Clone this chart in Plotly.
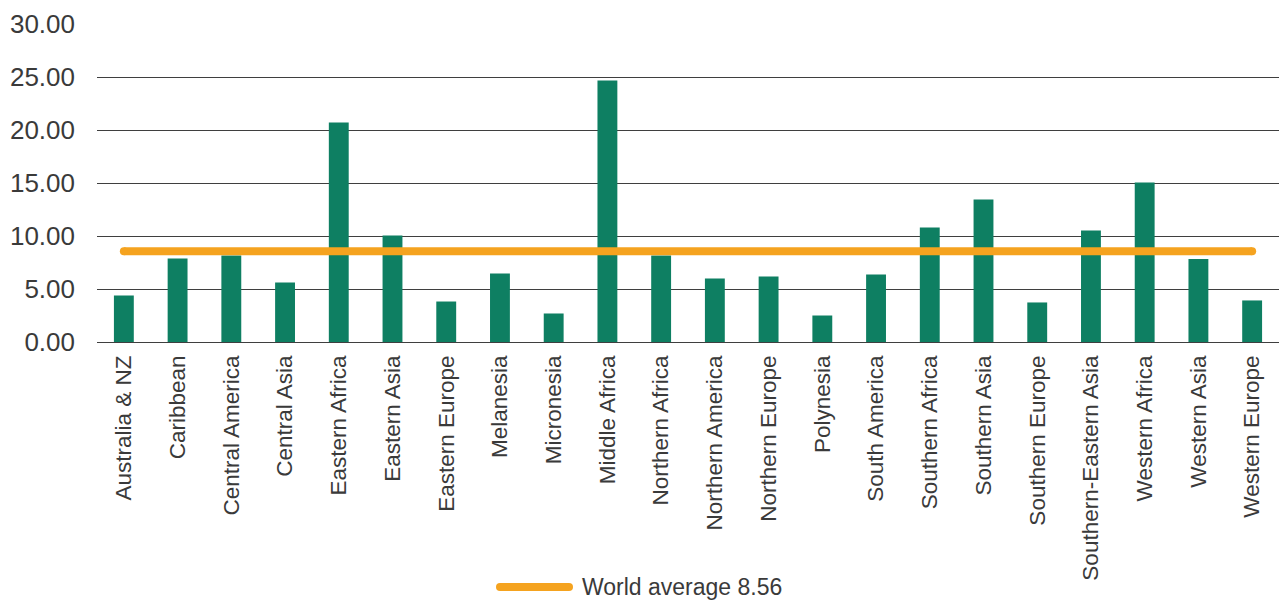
import plotly.graph_objects as go

regions = [
    "Australia & NZ", "Caribbean", "Central America", "Central Asia",
    "Eastern Africa", "Eastern Asia", "Eastern Europe", "Melanesia",
    "Micronesia", "Middle Africa", "Northern Africa", "Northern America",
    "Northern Europe", "Polynesia", "South America", "Southern Africa",
    "Southern Asia", "Southern Europe", "Southern-Eastern Asia",
    "Western Africa", "Western Asia", "Western Europe",
]
rates = [
    4.39, 7.88, 8.16, 5.61,
    20.71, 10.05, 3.82, 6.46,
    2.69, 24.67, 8.16, 5.99,
    6.18, 2.50, 6.37, 10.80,
    13.44, 3.73, 10.52,
    15.05, 7.83, 3.92,
]
world_average = 8.56
y_ticks = [0, 5, 10, 15, 20, 25, 30]
y_tick_text = [f"{v:.2f}" for v in y_ticks]

GREEN = "#0E7F62"
ORANGE = "#F5A31F"
TEXT = "#3a3a3a"
GRID = "#3f3f3f"
FONT = "Liberation Sans, Arial, sans-serif"

PLOT_L, PLOT_W, PLOT_T, PLOT_H = 97, 1182, 24, 318.5

fig = go.Figure()

fig.add_trace(go.Bar(
    x=regions, y=rates,
    marker=dict(color=GREEN, line=dict(width=0)),
    showlegend=False,
    hoverinfo="x+y",
))

# average line with rounded ends
fig.add_trace(go.Scatter(
    x=[regions[0], regions[-1]],
    y=[world_average, world_average],
    mode="lines+markers",
    line=dict(color=ORANGE, width=8),
    marker=dict(color=ORANGE, size=8, line=dict(width=0)),
    name=f"World average {world_average}",
    showlegend=False,
    cliponaxis=False,
))

# legend swatch + label
leg_y = -(588 - (PLOT_T + PLOT_H)) / PLOT_H
sw_x0 = (500 - PLOT_L) / PLOT_W
sw_x1 = (569 - PLOT_L) / PLOT_W
fig.add_shape(
    type="line", xref="paper", yref="paper",
    x0=sw_x0, x1=sw_x1, y0=leg_y, y1=leg_y,
    line=dict(color=ORANGE, width=8),
)
for cx in (sw_x0, sw_x1):
    fig.add_shape(
        type="circle", xref="paper", yref="paper",
        xsizemode="pixel", ysizemode="pixel",
        xanchor=cx, yanchor=leg_y,
        x0=-4, x1=4, y0=-4, y1=4,
        fillcolor=ORANGE, line=dict(width=0),
    )
fig.add_annotation(
    xref="paper", yref="paper",
    x=(580 - PLOT_L) / PLOT_W, y=leg_y,
    xanchor="left", yanchor="middle",
    text=f"World average {world_average}",
    showarrow=False,
    font=dict(family=FONT, size=23, color=TEXT),
)

fig.update_layout(
    width=1279, height=606,
    margin=dict(l=PLOT_L, r=0, t=PLOT_T, b=606 - PLOT_T - PLOT_H),
    paper_bgcolor="white", plot_bgcolor="white",
    bargap=0.63,
    font=dict(family=FONT, color=TEXT),
)
fig.update_xaxes(
    type="category",
    range=[-0.5, len(regions) - 0.5],
    tickangle=-90,
    tickfont=dict(family=FONT, size=22.5, color=TEXT),
    showgrid=False,
    showline=False,
    ticks="",
    ticklabelstandoff=8,
)
fig.update_yaxes(
    range=[0, 30],
    tickvals=y_ticks,
    ticktext=y_tick_text,
    tickfont=dict(family=FONT, size=26, color=TEXT),
    showgrid=True, gridcolor=GRID, gridwidth=1.3,
    zeroline=True, zerolinecolor=GRID, zerolinewidth=1.3,
    showline=False,
    ticks="",
    ticklabelstandoff=21,
)

fig.write_html("out.html")
